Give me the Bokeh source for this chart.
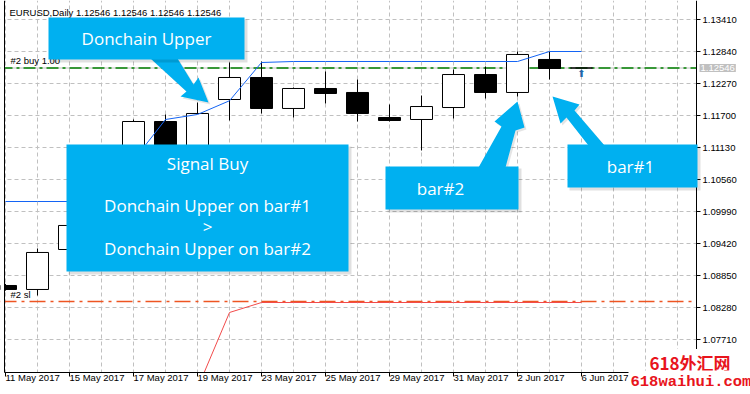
from bokeh.plotting import figure
from bokeh.models import (ColumnDataSource, FixedTicker, Range1d, Label, BoxAnnotation,
                          PolyAnnotation, Span, PrintfTickFormatter)
from bokeh.core.properties import value
from bokeh.embed import file_html
from bokeh.resources import INLINE

# ---------------- data ----------------
bar_dates = ["11 May", "12 May", "15 May", "16 May", "17 May", "18 May", "19 May",
             "22 May", "23 May", "24 May", "25 May", "26 May", "29 May", "30 May",
             "31 May", "1 Jun", "2 Jun", "5 Jun", "6 Jun"]
opens  = [1.08672, 1.08601, 1.09313, 1.09720, 1.10450, 1.11593, 1.11000, 1.11985, 1.12377, 1.11825,
          1.12181, 1.12110, 1.11664, 1.11629, 1.11842, 1.12430, 1.12110, 1.12698, 1.12546]
highs  = [1.08700, 1.09331, 1.09794, 1.10900, 1.11629, 1.11718, 1.11932, 1.12644, 1.12662, 1.12199,
          1.12484, 1.12341, 1.11896, 1.12056, 1.12519, 1.12573, 1.12840, 1.12840, 1.12546]
lows   = [1.08580, 1.08494, 1.09260, 1.09620, 1.10350, 1.10850, 1.10900, 1.11611, 1.11736, 1.11664,
          1.11914, 1.11593, 1.11593, 1.11077, 1.11647, 1.12003, 1.12038, 1.12341, 1.12546]
closes = [1.08601, 1.09260, 1.09741, 1.10450, 1.11593, 1.10980, 1.11736, 1.12377, 1.11825, 1.12181,
          1.12092, 1.11736, 1.11611, 1.11860, 1.12430, 1.12110, 1.12787, 1.12537, 1.12546]
donchian_upper = [1.10168, 1.10168, 1.10168, 1.10168, 1.10900, 1.11629, 1.11718, 1.11963, 1.12644, 1.12662,
                  1.12662, 1.12662, 1.12662, 1.12662, 1.12662, 1.12662, 1.12662, 1.12840, 1.12840]
donchian_lower = [1.06840, 1.06840, 1.06840, 1.06840, 1.06840, 1.06840, 1.06840, 1.08191, 1.08369, 1.08369,
                  1.08369, 1.08369, 1.08369, 1.08369, 1.08369, 1.08369, 1.08369, 1.08369, 1.08369]
bid_price = 1.12546
sl_price = 1.08387
entry_bar = [18]
entry_price = [1.12546]

x_tick_idx = [0, 2, 4, 6, 8, 10, 12, 14, 16, 18]
x_tick_labels = ["11 May 2017", "15 May 2017", "17 May 2017", "19 May 2017", "23 May 2017",
                 "25 May 2017", "29 May 2017", "31 May 2017", "2 Jun 2017", "6 Jun 2017"]
y_ticks = [1.07710, 1.08280, 1.08850, 1.09420, 1.09990, 1.10560, 1.11130, 1.11700, 1.12270, 1.12840, 1.13410]

# --------------- geometry helpers (reference pixels -> data) ---------------
def X(px):
    return (px - 5) / 32.0

def Y(py):
    return 1.13410 - (py - 19) * 0.057 / 320.0

FONT = "Liberation Sans"
CALLOUT = "#00B0F0"

# the frame covers the whole canvas; axes are pinned at the chart edges
p = figure(width=750, height=394, title=None,
           x_range=Range1d(X(0), X(750)), y_range=Range1d(Y(394), Y(0)),
           y_axis_location="right", output_backend="svg", toolbar_location=None,
           min_border_left=0, min_border_top=0, min_border_right=0, min_border_bottom=0)
p.background_fill_color = "white"
p.border_fill_color = "white"
p.outline_line_color = None

# axes
p.yaxis.ticker = FixedTicker(ticks=y_ticks)
p.yaxis.formatter = PrintfTickFormatter(format="%.5f")
p.xaxis.ticker = FixedTicker(ticks=x_tick_idx)
p.xaxis.major_label_overrides = dict(zip(x_tick_idx, x_tick_labels))
for ax in (p.xaxis, p.yaxis):
    ax.axis_line_color = "black"
    ax.major_tick_line_color = "black"
    ax.major_tick_in = 0
    ax.major_tick_out = 4
    ax.minor_tick_line_color = None
    ax.major_label_text_font = FONT
    ax.major_label_text_font_size = "9.5px"
    ax.major_label_text_color = "black"
p.yaxis.major_label_standoff = 2
p.xaxis.major_label_standoff = 1
p.xaxis.major_label_orientation = -1e-6
p.xaxis.fixed_location = Y(372)
p.xaxis.bounds = (X(4), X(696))
p.yaxis.fixed_location = X(696)
p.yaxis.bounds = (Y(372), Y(0))

# grid
p.xgrid.ticker = FixedTicker(ticks=list(range(0, 22)))
for g in (p.xgrid, p.ygrid):
    g.grid_line_color = "#C0C0C0"
    g.grid_line_dash = "4 3"
    g.grid_line_width = 1

# horizontal levels
p.add_layout(Span(location=bid_price, dimension="width", line_color="#C0C0C0", line_width=1, level="underlay"))
p.add_layout(Span(location=bid_price, dimension="width", line_color="#008000", line_width=1.5,
                  line_dash="12 4 3 4", level="underlay"))
p.add_layout(Span(location=sl_price, dimension="width", line_color="#EE5522", line_width=1.5,
                  line_dash="16 5 3 5", level="underlay"))

# candles
idx = list(range(len(bar_dates)))
up = [c >= o for o, c in zip(opens, closes)]
src = ColumnDataSource(dict(
    x=idx, high=highs, low=lows,
    top=[max(o, c) for o, c in zip(opens, closes)],
    bottom=[min(o, c) for o, c in zip(opens, closes)],
    fill=["white" if u else "black" for u in up],
))
p.segment(x0="x", y0="high", x1="x", y1="low", line_color="black", line_width=1, source=src)
p.vbar(x="x", width=0.6875, top="top", bottom="bottom", fill_color="fill",
       line_color="black", line_width=1, source=src)

# Donchian channel lines
p.line(idx, donchian_upper, line_color="#1464F4", line_width=1)
p.line(idx, donchian_lower, line_color="#F24B4B", line_width=1)

# buy arrow
p.text(x=entry_bar, y=entry_price, text=["\u2B06"], text_font=value("DejaVu Sans"),
       text_font_size="10px", text_color="#2266AA", text_align="center", text_baseline="top", y_offset=0)

# white margins outside the chart area (below the time axis, right of the price axis, left edge)
p.quad(left=[X(0), X(696), X(0)], right=[X(750), X(750), X(3.5)],
       top=[Y(372), Y(0), Y(0)], bottom=[Y(394), Y(372), Y(394)],
       fill_color="white", line_color=None)
# left border of the chart
p.segment(x0=[X(4)], y0=[Y(372)], x1=[X(4)], y1=[Y(0)], line_color="black", line_width=1)

# chart texts
p.add_layout(Label(x=X(9), y=Y(12), text="EURUSD,Daily  1.12546 1.12546 1.12546 1.12546",
                   text_font=FONT, text_font_size="9.5px", text_color="black",
                   text_align="left", text_baseline="middle"))
p.add_layout(Label(x=X(10), y=Y(60), text="#2 buy 1.00", text_font=FONT, text_font_size="9.5px",
                   text_color="black", text_align="left", text_baseline="middle"))
p.add_layout(Label(x=X(10), y=Y(294), text="#2 sl", text_font=FONT, text_font_size="9.5px",
                   text_color="black", text_align="left", text_baseline="middle"))

# price tag on axis
p.add_layout(Label(x=X(699), y=bid_price, text="1.12546", text_font=FONT, text_font_size="9.5px",
                   text_color="white", background_fill_color="#C0C0C0", text_align="left",
                   text_baseline="middle", padding=1))

# ---------------- callouts ----------------
def box(l, t, r, b):
    p.add_layout(BoxAnnotation(left=X(l + 2), right=X(r + 3), top=Y(t + 2), bottom=Y(b + 3),
                               fill_color="black", fill_alpha=0.12, line_color=None))
    p.add_layout(BoxAnnotation(left=X(l), right=X(r), top=Y(t), bottom=Y(b),
                               fill_color=CALLOUT, fill_alpha=1, line_color=None))

def arrow(pts):
    p.add_layout(PolyAnnotation(xs=[X(a) + 0.06 for a, _ in pts], ys=[Y(b + 2) for _, b in pts],
                                fill_color="black", fill_alpha=0.10, line_color=None))
    p.add_layout(PolyAnnotation(xs=[X(a) for a, _ in pts], ys=[Y(b) for _, b in pts],
                                fill_color=CALLOUT, fill_alpha=1, line_color=None))

def ctext(txt, cx, cy):
    p.add_layout(Label(x=X(cx), y=Y(cy), text=txt, text_font="Open Sans", text_font_size="17px",
                       text_color="white", text_align="center", text_baseline="middle"))

arrow([(150, 58), (186, 91), (180, 96), (208, 102), (198, 77), (193, 84), (177, 58)])
box(48, 17, 244, 59)
ctext("Donchain Upper", 146, 38)

box(66, 144, 348, 271)
ctext("Signal Buy", 207, 163)
ctext("Donchain Upper on bar#1", 207, 205)
ctext(">", 207, 226)
ctext("Donchain Upper on bar#2", 207, 248)

arrow([(478, 167), (501, 126), (494, 121), (517, 101), (524, 127), (515, 130), (505, 167)])
box(385, 166, 518, 209)
ctext("bar#2", 440, 188)

arrow([(588, 145), (566, 117), (560, 123), (552, 96), (579, 104), (574, 110), (604, 145)])
box(567, 144, 697, 187)
ctext("bar#1", 630, 166)

# watermark
p.add_layout(Label(x=X(648), y=Y(362), text="618外汇网", text_font="Noto Sans CJK SC",
                   text_font_style="bold", text_font_size="17px", text_color="#E8141C",
                   background_fill_color="white", text_align="left", text_baseline="middle", padding=1))
p.add_layout(Label(x=X(628), y=Y(381), text="618waihui.com", text_font="Liberation Mono",
                   text_font_style="bold", text_font_size="15.5px", text_color="#E8141C",
                   background_fill_color="white", text_align="left", text_baseline="middle", padding=2))

open("out.html", "w").write(file_html(p, INLINE))
